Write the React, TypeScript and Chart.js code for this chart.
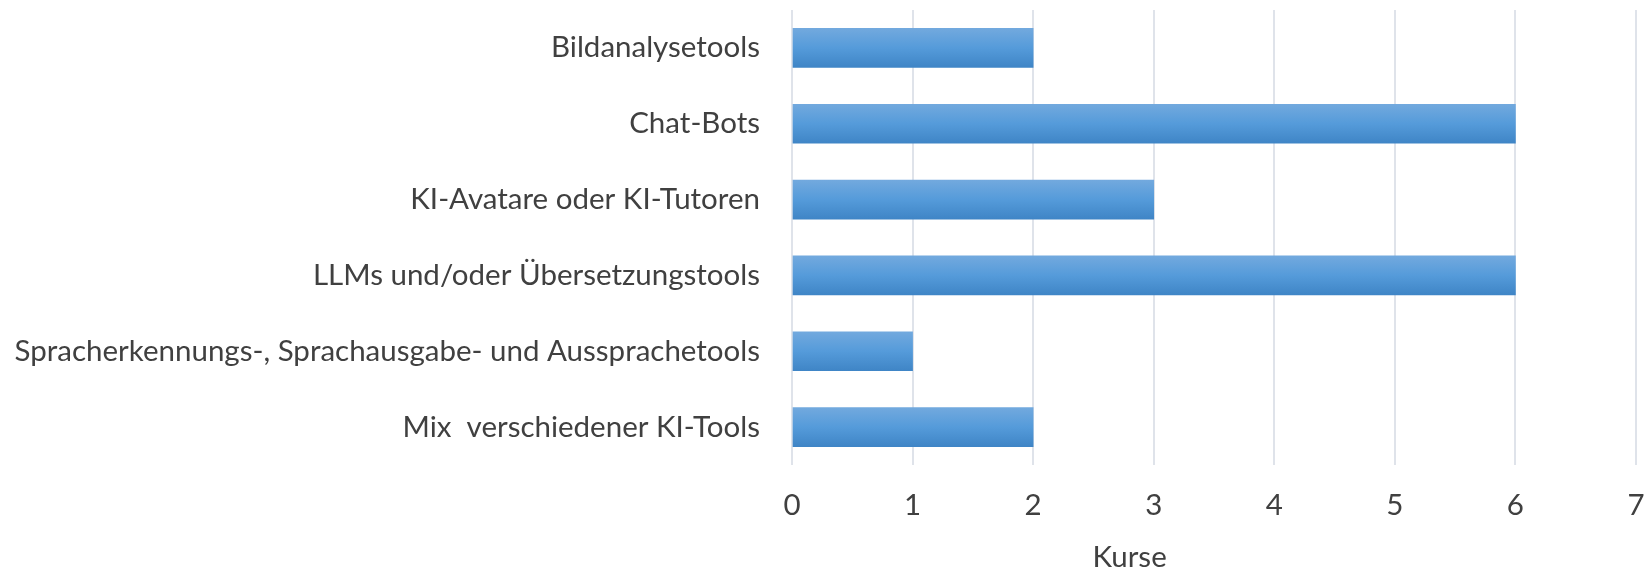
import React, { useEffect, useRef } from "react";
import { Chart, registerables } from "chart.js";

Chart.register(...registerables);

const categories = [
  "Bildanalysetools",
  "Chat-Bots",
  "KI-Avatare oder KI-Tutoren",
  "LLMs und/oder Übersetzungstools",
  "Spracherkennungs-, Sprachausgabe- und Aussprachetools",
  "Mix  verschiedener KI-Tools",
];
const values = [2, 6, 3, 6, 1, 2];
const xMin = 0;
const xMax = 7;
const xStep = 1;
const axisTitle = "Kurse";

const FONT = "Lato, Carlito, Calibri, 'Open Sans', sans-serif";
const FONT_SIZE = 29.5;
const TEXT = "#404040";
const BAR_H = 39;

const titlePlugin = {
  id: "offsetTitle",
  afterDraw(chart: any) {
    const { ctx, chartArea } = chart;
    ctx.save();
    ctx.font = `${FONT_SIZE}px ${FONT}`;
    ctx.fillStyle = TEXT;
    ctx.textAlign = "center";
    ctx.textBaseline = "middle";
    const x = chartArea.left + (chartArea.right - chartArea.left) * 0.4;
    ctx.fillText(axisTitle, x, chartArea.bottom + 92);
    ctx.restore();
  },
};

export default function App() {
  const ref = useRef<HTMLCanvasElement | null>(null);
  useEffect(() => {
    document.body.style.margin = "0";
    const canvas = ref.current!;
    const chart = new Chart(canvas, {
      type: "bar",
      data: {
        labels: categories,
        datasets: [
          {
            data: values,
            barThickness: BAR_H,
            backgroundColor: (c: any) => {
              const ch = c.chart;
              const y = ch.scales && ch.scales.y;
              if (!y || c.dataIndex === undefined) return "#559ad8";
              const yc = y.getPixelForValue(c.dataIndex);
              if (!isFinite(yc)) return "#559ad8";
              const g = ch.ctx.createLinearGradient(0, yc - BAR_H / 2, 0, yc + BAR_H / 2);
              g.addColorStop(0, "#72a9de");
              g.addColorStop(0.5, "#559bda");
              g.addColorStop(1, "#3f85c6");
              return g;
            },
            borderWidth: 0,
          },
        ],
      },
      options: {
        indexAxis: "y",
        animation: false,
        responsive: true,
        maintainAspectRatio: false,
        layout: { padding: { top: 10, right: 10, bottom: 0, left: 0 } },
        plugins: { legend: { display: false }, tooltip: { enabled: false } },
        scales: {
          x: {
            min: xMin,
            max: xMax,
            afterFit: (s: any) => {
              s.height = 105;
              s.paddingLeft = 0;
              s.paddingRight = 0;
            },
            ticks: {
              stepSize: xStep,
              padding: 23,
              color: TEXT,
              font: { family: FONT, size: FONT_SIZE },
              maxRotation: 0,
            },
            grid: { color: "#dfe3ea", lineWidth: 2, drawTicks: false },
            border: { display: false },
          },
          y: {
            afterFit: (s: any) => {
              s.width = 792;
              s.paddingTop = 0;
              s.paddingBottom = 0;
            },
            ticks: {
              padding: 32,
              color: TEXT,
              font: { family: FONT, size: FONT_SIZE },
              autoSkip: false,
            },
            grid: { display: false, drawTicks: false },
            border: { display: false },
          },
        },
      },
      plugins: [titlePlugin],
    } as any);
    return () => chart.destroy();
  }, []);
  return (
    <div style={{ width: "1646px", height: "570px", position: "relative" }}>
      <canvas ref={ref} />
    </div>
  );
}
